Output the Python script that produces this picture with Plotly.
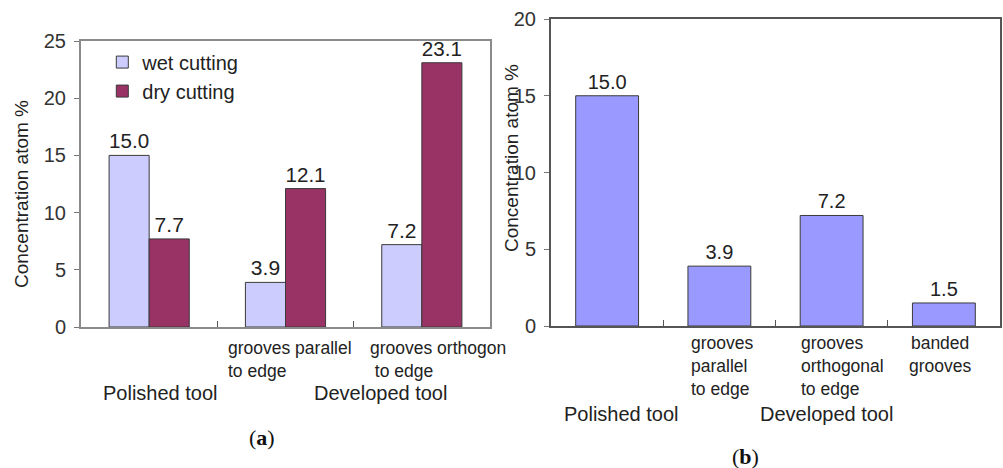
import plotly.graph_objects as go

# ---- data -------------------------------------------------------------
cats_a = ["polished", "grooves parallel to edge", "grooves orthogonal to edge"]
wet_cutting = [15.0, 3.9, 7.2]
dry_cutting = [7.7, 12.1, 23.1]

cats_b = ["polished", "grooves parallel to edge", "grooves orthogonal to edge", "banded grooves"]
concentration_b = [15.0, 3.9, 7.2, 1.5]

sub_labels_a = ["grooves parallel<br>to edge", "grooves orthogon<br> to edge"]
sub_labels_b = ["grooves<br>parallel<br>to edge", "grooves<br>orthogonal<br>to edge", "banded<br>grooves"]
group_labels = ["Polished tool", "Developed tool"]
y_title = "Concentration atom %"

# ---- styling ----------------------------------------------------------
W, H = 1003, 468
FONT = "Liberation Sans, Arial, sans-serif"
TXT = "#222222"
WET = "#CCCCFF"
DRY = "#993366"
BLUE = "#9999FF"
EDGE = "#3a3a3a"


def px(x):
    return x / W


def py(y):
    return 1 - y / H


fig = go.Figure()

bar_w_a = 0.294
label_font = dict(size=21, color=TXT, family=FONT)
fig.add_trace(go.Bar(
    x=cats_a, y=wet_cutting, name="wet cutting",
    width=bar_w_a, offset=-bar_w_a,
    marker=dict(color=WET, line=dict(color=EDGE, width=1)),
    texttemplate="%{y:.1f}", textposition="outside",
    textfont=label_font, cliponaxis=False,
    xaxis="x", yaxis="y",
))
fig.add_trace(go.Bar(
    x=cats_a, y=dry_cutting, name="dry cutting",
    width=bar_w_a, offset=0,
    marker=dict(color=DRY, line=dict(color=EDGE, width=1)),
    texttemplate="%{y:.1f}", textposition="outside",
    textfont=label_font, cliponaxis=False,
    xaxis="x", yaxis="y",
))

bar_w_b = 0.56
fig.add_trace(go.Bar(
    x=cats_b, y=concentration_b, name="concentration",
    width=bar_w_b, offset=-bar_w_b / 2, showlegend=False,
    marker=dict(color=BLUE, line=dict(color=EDGE, width=1)),
    texttemplate="%{y:.1f}", textposition="outside",
    textfont=dict(size=20, color=TXT, family=FONT), cliponaxis=False,
    xaxis="x2", yaxis="y2",
))

xcommon = dict(
    type="category", showticklabels=False, ticks="inside", ticklen=6,
    tickson="boundaries", tickcolor="#555555", showgrid=False,
    showline=True, mirror=True, zeroline=False, automargin=False,
)
ycommon = dict(
    ticks="outside", ticklen=5, tickcolor="#777777", showgrid=False,
    showline=True, mirror=True, zeroline=False, dtick=5, automargin=False,
    tickfont=dict(size=20, color="#333333", family=FONT),
    ticklabelstandoff=4,
)

fig.update_layout(
    width=W, height=H,
    margin=dict(l=0, r=0, t=0, b=0, autoexpand=False),
    paper_bgcolor="white", plot_bgcolor="white",
    font=dict(family=FONT, color=TXT),
    barmode="overlay",
    showlegend=True,
    legend=dict(
        x=0.102, y=0.909, xanchor="left", yanchor="top",
        bgcolor="rgba(0,0,0,0)", font=dict(size=20, color=TXT, family=FONT),
        itemwidth=30, tracegroupgap=0,
    ),
    xaxis=dict(domain=[px(81), px(490)], anchor="y", range=[-0.5, 2.5],
               linecolor="#8a8a8a", linewidth=2, **xcommon),
    yaxis=dict(domain=[py(327), py(41)], anchor="x", range=[0, 25],
               linecolor="#8a8a8a", linewidth=2, **ycommon),
    xaxis2=dict(domain=[px(551), px(1000)], anchor="y2", range=[-0.5, 3.5],
                linecolor="#555555", linewidth=2, **xcommon),
    yaxis2=dict(domain=[py(326), py(19)], anchor="x2", range=[0, 20],
                linecolor="#555555", linewidth=2, **ycommon),
)


def centred(text, x, y, size, **kw):
    return dict(text=text, x=px(x), y=py(y), xref="paper", yref="paper",
                xanchor="center", yanchor="middle", showarrow=False,
                font=dict(size=size, **kw.pop("font", {})), **kw)


ann = []
# axis titles
ann.append(centred(y_title, 21, 194, 19, textangle=-90))
ann.append(centred(y_title, 511, 158, 19, textangle=-90))

# panel (a) category labels
for i, (lab, shift) in enumerate(zip(sub_labels_a, [-60, -54]), start=1):
    ann.append(dict(text=lab, x=i, xref="x", y=py(336), yref="paper",
                    xanchor="left", yanchor="top", xshift=shift, align="left",
                    showarrow=False, font=dict(size=17.5)))
ann.append(centred(group_labels[0], 160, 393, 20))
ann.append(centred(group_labels[1], 380, 393, 20))

# panel (b) category labels
b_specs = [(1, -30, "left", "left"), (2, -33, "left", "left"), (3, -3, "center", "center")]
for lab, (i, shift, anchor, al) in zip(sub_labels_b, b_specs):
    ann.append(dict(text=lab, x=i, xref="x2", y=py(331), yref="paper",
                    xanchor=anchor, yanchor="top", xshift=shift, align=al,
                    showarrow=False, font=dict(size=17.5)))
ann.append(centred(group_labels[0], 621, 414, 20))
ann.append(centred(group_labels[1], 826, 414, 20))

# panel captions
SERIF = "Liberation Serif, Times New Roman, serif"
ann.append(centred("(<b>a</b>)", 262, 437, 22, font=dict(family=SERIF, color="#111111")))
ann.append(centred("(<b>b</b>)", 745, 456, 22, font=dict(family=SERIF, color="#111111")))

fig.update_layout(annotations=ann)

fig.write_html("out.html")
